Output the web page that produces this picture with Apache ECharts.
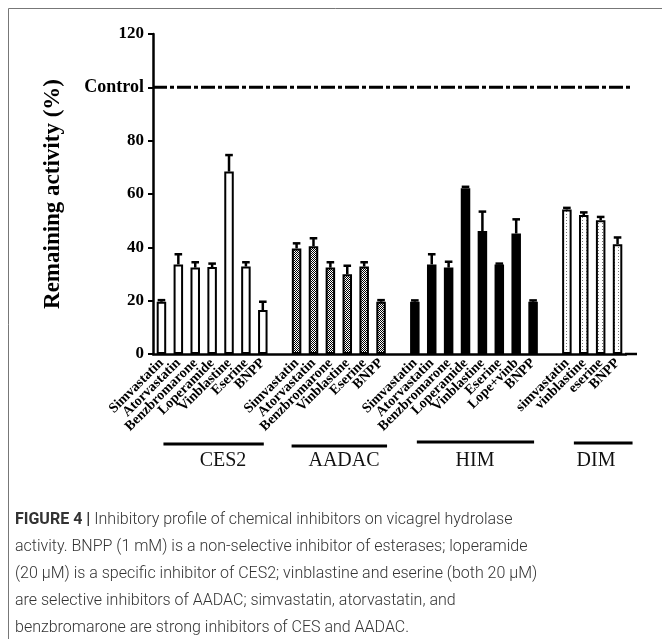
<!DOCTYPE html>
<html><head><meta charset="utf-8">
<script src="https://cdn.jsdelivr.net/npm/echarts@6/dist/echarts.min.js"></script>
<style>html,body{margin:0;padding:0;background:#fff}#c{width:662px;height:639px}</style>
</head><body><div id="c"></div><script>
// ---- data ----
const groupNames = ['CES2', 'AADAC', 'HIM', 'DIM'];
const ces2Labels = ['Simvastatin', 'Atorvastatin', 'Benzbromarone', 'Loperamide', 'Vinblastine', 'Eserine', 'BNPP'];
const ces2Values = [19.6, 33.6, 32.4, 32.6, 68.4, 32.8, 16.5];
const ces2Errors = [0.6, 3.8, 2.0, 1.3, 6.2, 1.6, 3.1];
const aadacLabels = ['Simvastatin', 'Atorvastatin', 'Benzbromarone', 'Vinblastine', 'Eserine', 'BNPP'];
const aadacValues = [39.6, 40.4, 32.4, 29.9, 32.8, 19.6];
const aadacErrors = [1.9, 3.0, 2.0, 3.2, 1.6, 0.6];
const himLabels = ['Simvastatin', 'Atorvastatin', 'Benzbromarone', 'Loperamide', 'Vinblastine', 'Eserine', 'Lope+vinb', 'BNPP'];
const himValues = [19.6, 33.6, 32.4, 62.2, 46.1, 33.6, 45.2, 19.6];
const himErrors = [0.5, 3.8, 2.2, 0.5, 7.3, 0.3, 5.3, 0.5];
const dimLabels = ['simvastatin', 'vinblastine', 'eserine', 'BNPP'];
const dimValues = [54.2, 52.1, 50.2, 41.2];
const dimErrors = [0.6, 1.0, 1.2, 2.5];
const yTickValues = [0, 20, 40, 60, 80, 100, 120];
const controlValue = 100;
const controlLabel = 'Control';
const yAxisTitle = 'Remaining activity (%)';
const captionBold = 'FIGURE 4 | ';
const captionLines = [
  'Inhibitory profile of chemical inhibitors on vicagrel hydrolase',
  'activity. BNPP (1 mM) is a non-selective inhibitor of esterases; loperamide',
  '(20 µM) is a specific inhibitor of CES2; vinblastine and eserine (both 20 µM)',
  'are selective inhibitors of AADAC; simvastatin, atorvastatin, and',
  'benzbromarone are strong inhibitors of CES and AADAC.'
];

// ---- build categories (one empty slot between groups) ----
const groups = [
  {labels: ces2Labels, values: ces2Values, errors: ces2Errors},
  {labels: aadacLabels, values: aadacValues, errors: aadacErrors},
  {labels: himLabels, values: himValues, errors: himErrors},
  {labels: dimLabels, values: dimValues, errors: dimErrors}
];
const categories = [];
groups.forEach((g, gi) => {
  g.start = categories.length;
  g.labels.forEach(l => categories.push(l));
  g.end = categories.length - 1;
  if (gi < groups.length - 1) categories.push('');
});

function checker() {
  const c = document.createElement('canvas'); c.width = 2; c.height = 2;
  const g = c.getContext('2d');
  g.fillStyle = '#fff'; g.fillRect(0, 0, 2, 2);
  g.fillStyle = '#000'; g.fillRect(0, 0, 1, 1); g.fillRect(1, 1, 1, 1);
  return c;
}
function dots() {
  const c = document.createElement('canvas'); c.width = 4; c.height = 3;
  const g = c.getContext('2d');
  g.fillStyle = '#fff'; g.fillRect(0, 0, 4, 3);
  g.fillStyle = '#777'; g.fillRect(2, 1, 1, 1);
  return c;
}
const fills = ['#fff', {image: checker(), repeat: 'repeat'}, '#000', {image: dots(), repeat: 'repeat'}];

const series = [];
const errData = [];
groups.forEach((g, gi) => {
  const d = categories.map(() => '-');
  g.values.forEach((v, i) => {
    d[g.start + i] = v;
    errData.push([g.start + i, v, g.errors[i]]);
  });
  series.push({
    type: 'bar', data: d, barWidth: 9.5, barGap: '-100%', z: 2,
    itemStyle: {color: fills[gi], borderColor: '#000', borderWidth: 2},
    silent: true
  });
});
series.push({
  type: 'custom', data: errData, z: 1, silent: true,
  renderItem(params, api) {
    const x = api.value(0), v = api.value(1), e = api.value(2);
    const p0 = api.coord([x, v]);
    const p1 = api.coord([x, v + e]);
    return {type: 'group', children: [
      {type: 'line', shape: {x1: p0[0], y1: p0[1], x2: p1[0], y2: p1[1]}, style: {stroke: '#000', lineWidth: 2.5}},
      {type: 'line', shape: {x1: p1[0] - 3.8, y1: p1[1], x2: p1[0] + 3.8, y2: p1[1]}, style: {stroke: '#000', lineWidth: 2.5}}
    ]};
  }
});

const serif = '"Liberation Serif", "Times New Roman", serif';
const chart = echarts.init(document.getElementById('c'), null, {renderer: 'canvas'});
chart.setOption({
  animation: false,
  backgroundColor: '#fff',
  grid: {left: 153, top: 34, width: 473, height: 320, containLabel: false},
  xAxis: {
    type: 'category', data: categories,
    axisLine: {lineStyle: {color: '#000', width: 2.5}},
    axisTick: {alignWithLabel: true, interval: 0, length: 5, lineStyle: {color: '#000', width: 2}},
    axisLabel: {interval: 0, rotate: 45, margin: 7, color: '#000', fontFamily: serif, fontWeight: 'bold', fontSize: 14}
  },
  yAxis: {
    type: 'value', min: 0, max: 120, interval: 20,
    name: yAxisTitle, nameLocation: 'middle', nameGap: 88,
    nameTextStyle: {color: '#000', fontFamily: serif, fontWeight: 'bold', fontSize: 23},
    splitLine: {show: false},
    axisLine: {show: true, lineStyle: {color: '#000', width: 2.5}},
    axisTick: {show: true, length: 5, lineStyle: {color: '#000', width: 2}},
    axisLabel: {
      margin: 9, color: '#000', fontFamily: serif, fontWeight: 'bold', fontSize: 17,
      formatter: v => (yTickValues.indexOf(v) < 0 ? '' : (v === controlValue ? '{c|' + controlLabel + '}' : String(v))),
      rich: {c: {fontFamily: serif, fontWeight: 'bold', fontSize: 18, color: '#000'}}
    }
  },
  series: series
});

// ---- annotations: control line, group bars/labels, axis extension, caption, frame ----
const yBase = chart.convertToPixel({yAxisIndex: 0}, 0);
const yCtrl = chart.convertToPixel({yAxisIndex: 0}, controlValue);
const band = chart.convertToPixel({xAxisIndex: 0}, 1) - chart.convertToPixel({xAxisIndex: 0}, 0);
const firstX = chart.convertToPixel({xAxisIndex: 0}, 0) - band / 2;
const lastX = chart.convertToPixel({xAxisIndex: 0}, categories.length - 1) + band / 2;
const graphics = [];
graphics.push({type: 'line', z: 10, shape: {x1: firstX, y1: yCtrl, x2: lastX + 6, y2: yCtrl},
  style: {stroke: '#000', lineWidth: 3, lineDash: [14, 3, 4, 3]}});
const lineOffsets = [[2, 1], [-5, 6], [2, 1], [7, 15]];
const lineDy = [90, 92, 88, 89];
const labelDx = [223, 344, 475, 596];
groups.forEach((g, gi) => {
  const xa = chart.convertToPixel({xAxisIndex: 0}, g.start) + lineOffsets[gi][0];
  const xb = chart.convertToPixel({xAxisIndex: 0}, g.end) + lineOffsets[gi][1];
  graphics.push({type: 'line', shape: {x1: xa, y1: yBase + lineDy[gi], x2: xb, y2: yBase + lineDy[gi]}, style: {stroke: '#000', lineWidth: 3}});
  graphics.push({type: 'text', x: labelDx[gi], y: yBase + 107, style: {text: groupNames[gi], fill: '#111', font: '20px ' + serif, textAlign: 'center', textVerticalAlign: 'middle'}});
});
graphics.push({type: 'line', shape: {x1: lastX - 1, y1: yBase, x2: lastX + 11, y2: yBase}, style: {stroke: '#000', lineWidth: 2.5}});
// frame
graphics.push({type: 'polyline', shape: {points: [[8.5, 662], [8.5, 8.5], [662, 8.5]]}, style: {stroke: '#777', lineWidth: 1, fill: null}});
// caption
const capFont = 'Roboto, "Liberation Sans", sans-serif';
captionLines.forEach((t, i) => {
  graphics.push({type: 'text', x: 15, y: 520 + i * 27, style: {
    text: i === 0 ? '{b|' + captionBold + '}{n|' + t + '}' : '{n|' + t + '}',
    textVerticalAlign: 'middle',
    rich: {
      b: {font: 'bold 16px ' + capFont, fill: '#333'},
      n: {font: '300 16px ' + capFont, fill: '#333'}
    }
  }});
});
chart.setOption({graphic: graphics});
</script></body></html>
